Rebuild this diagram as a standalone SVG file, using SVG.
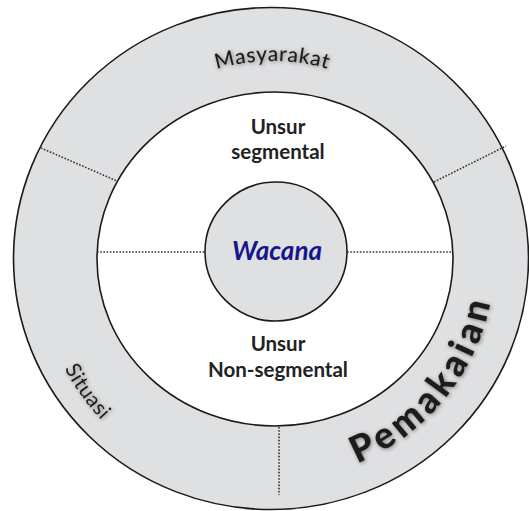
<svg xmlns="http://www.w3.org/2000/svg" width="529" height="511" viewBox="0 0 529 511">
<style>
.ring{fill:#dfe0e2;stroke:#1a1a1a;stroke-width:1.6}
.inner{fill:#ffffff;stroke:#1a1a1a;stroke-width:1.6}
.dot{stroke:#333;stroke-width:1.6;stroke-dasharray:1.6 1.6;fill:none}
.lbl{font-family:Lato,"Liberation Sans",sans-serif;font-weight:bold;font-size:20.5px;fill:#222;text-anchor:middle}
.arc{font-family:Lato,"Liberation Sans",sans-serif;fill:#1e1e1e}
</style>
<defs>
<filter id="sh" x="-30%" y="-30%" width="160%" height="160%">
<feGaussianBlur in="SourceAlpha" stdDeviation="2"/>
<feOffset dx="1" dy="1"/>
<feComponentTransfer><feFuncA type="linear" slope="0.45"/></feComponentTransfer>
<feMerge><feMergeNode/><feMergeNode in="SourceGraphic"/></feMerge>
</filter>
<path id="pMas" d="M174.5,87.4 A197,197 0 0 1 371.5,87.4"/>
<path id="pPem" d="M234.4,476.7 A222,222 0 0 0 481.6,182.1"/>
<path id="pSit" d="M37,258 A236,236 0 0 0 192.3,479.8"/>
</defs>
<g id="outer-ring">
<ellipse class="ring" cx="271" cy="258.5" rx="257.5" ry="251"/>
</g>
<g id="inner-ring">
<ellipse class="inner" cx="275" cy="259" rx="178" ry="167"/>
</g>
<g id="connectors">
<line class="dot" x1="97" y1="252" x2="205" y2="252"/>
<line class="dot" x1="347" y1="252" x2="453" y2="252"/>
<line class="dot" x1="41" y1="148" x2="117" y2="181"/>
<line class="dot" x1="434" y1="182" x2="506" y2="146"/>
<line class="dot" x1="279" y1="427" x2="279" y2="495"/>
</g>
<g id="wacana">
<ellipse class="ring" cx="276" cy="251.5" rx="71" ry="69.5"/>
<text x="277" y="260" style="font-family:Lato,'Liberation Sans',sans-serif;font-weight:bold;font-style:italic;font-size:26px;fill:#16168a;text-anchor:middle">Wacana</text>
</g>
<g id="segmental">
<text class="lbl" x="278" y="134">Unsur</text>
<text class="lbl" x="278" y="159">segmental</text>
</g>
<g id="non-segmental">
<text class="lbl" x="278" y="351">Unsur</text>
<text class="lbl" x="278" y="377">Non-segmental</text>
</g>
<g id="masyarakat" filter="url(#sh)">
<text class="arc" font-size="21" font-weight="500" letter-spacing="0.6"><textPath href="#pMas" startOffset="46">Masyarakat</textPath></text>
</g>
<g id="situasi" filter="url(#sh)">
<text class="arc" font-size="21" letter-spacing="0.6"><textPath href="#pSit" startOffset="115">Situasi</textPath></text>
</g>
<g id="pemakaian" filter="url(#sh)">
<text class="arc" font-size="37" font-weight="900" letter-spacing="4.5"><textPath href="#pPem" startOffset="125">Pemakaian</textPath></text>
</g>
</svg>
